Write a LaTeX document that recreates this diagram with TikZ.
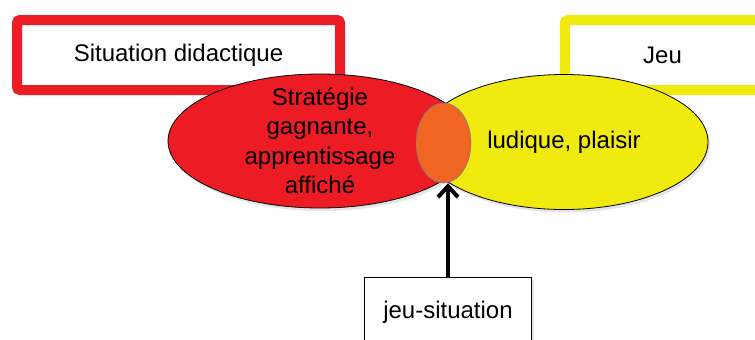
\documentclass[tikz,border=0pt]{standalone}
\usepackage{fontspec}
\setmainfont{Liberation Sans}
\usetikzlibrary{shapes.geometric,arrows.meta,shadows}
\definecolor{didred}{RGB}{237,28,36}
\definecolor{jeuyellow}{RGB}{241,234,15}
\definecolor{mixorange}{RGB}{241,101,34}
\definecolor{rimblue}{RGB}{79,129,189}

\begin{document}
\begin{tikzpicture}[x=1pt,y=-1pt,
		titlebox/.style={draw,line width=10pt,fill=white,rounded corners=3pt,minimum height=70pt,inner sep=0pt,font=\fontsize{24}{29}\selectfont,drop shadow={shadow xshift=2pt,shadow yshift=-3pt,opacity=0.2}},
		blob/.style={ellipse,draw=black,line width=0.8pt,inner sep=0pt,drop shadow={shadow xshift=2pt,shadow yshift=-3pt,opacity=0.2}},
		lbl/.style={align=center,font=\fontsize{24}{29.5}\selectfont}]
				\clip (0,0) rectangle (755,340);
				\fill[white] (0,0) rectangle (755,340);
				% the two frames
				\node[titlebox,draw=didred,minimum width=323pt] (didactique) at (178.5,55) {Situation didactique};
				\node[titlebox,draw=jeuyellow,minimum width=195pt] (jeu) at (662.5,55) {Jeu};
				% the two ellipses and their overlap
				\node[blob,fill=didred,minimum width=304pt,minimum height=134pt] (strategie) at (320,141) {};
				\node[blob,fill=jeuyellow,minimum width=288pt,minimum height=135pt] (ludique) at (564,142) {};
				\node[ellipse,draw=rimblue,thin,fill=mixorange,inner sep=0pt,minimum width=55pt,minimum height=80pt] (mix) at (443.5,143) {};
				\node[lbl] at (strategie.center) {Stratégie\\gagnante,\\apprentissage\\affiché};
				\node[lbl] at (ludique.center) {ludique, plaisir};
				% the game-situation
				\node[draw=black,fill=white,line width=0.8pt,minimum width=167pt,minimum height=70pt,anchor=north,font=\fontsize{24}{29}\selectfont,drop shadow={shadow xshift=2pt,shadow yshift=-3pt,opacity=0.2}] (jeusituation) at (448,277) {jeu-situation};
				\draw[line width=4pt,-{Straight Barb[length=11pt,width=20pt]}] (jeusituation.north) -- (jeusituation.north |- mix.south);
			\end{tikzpicture}
\end{document}
